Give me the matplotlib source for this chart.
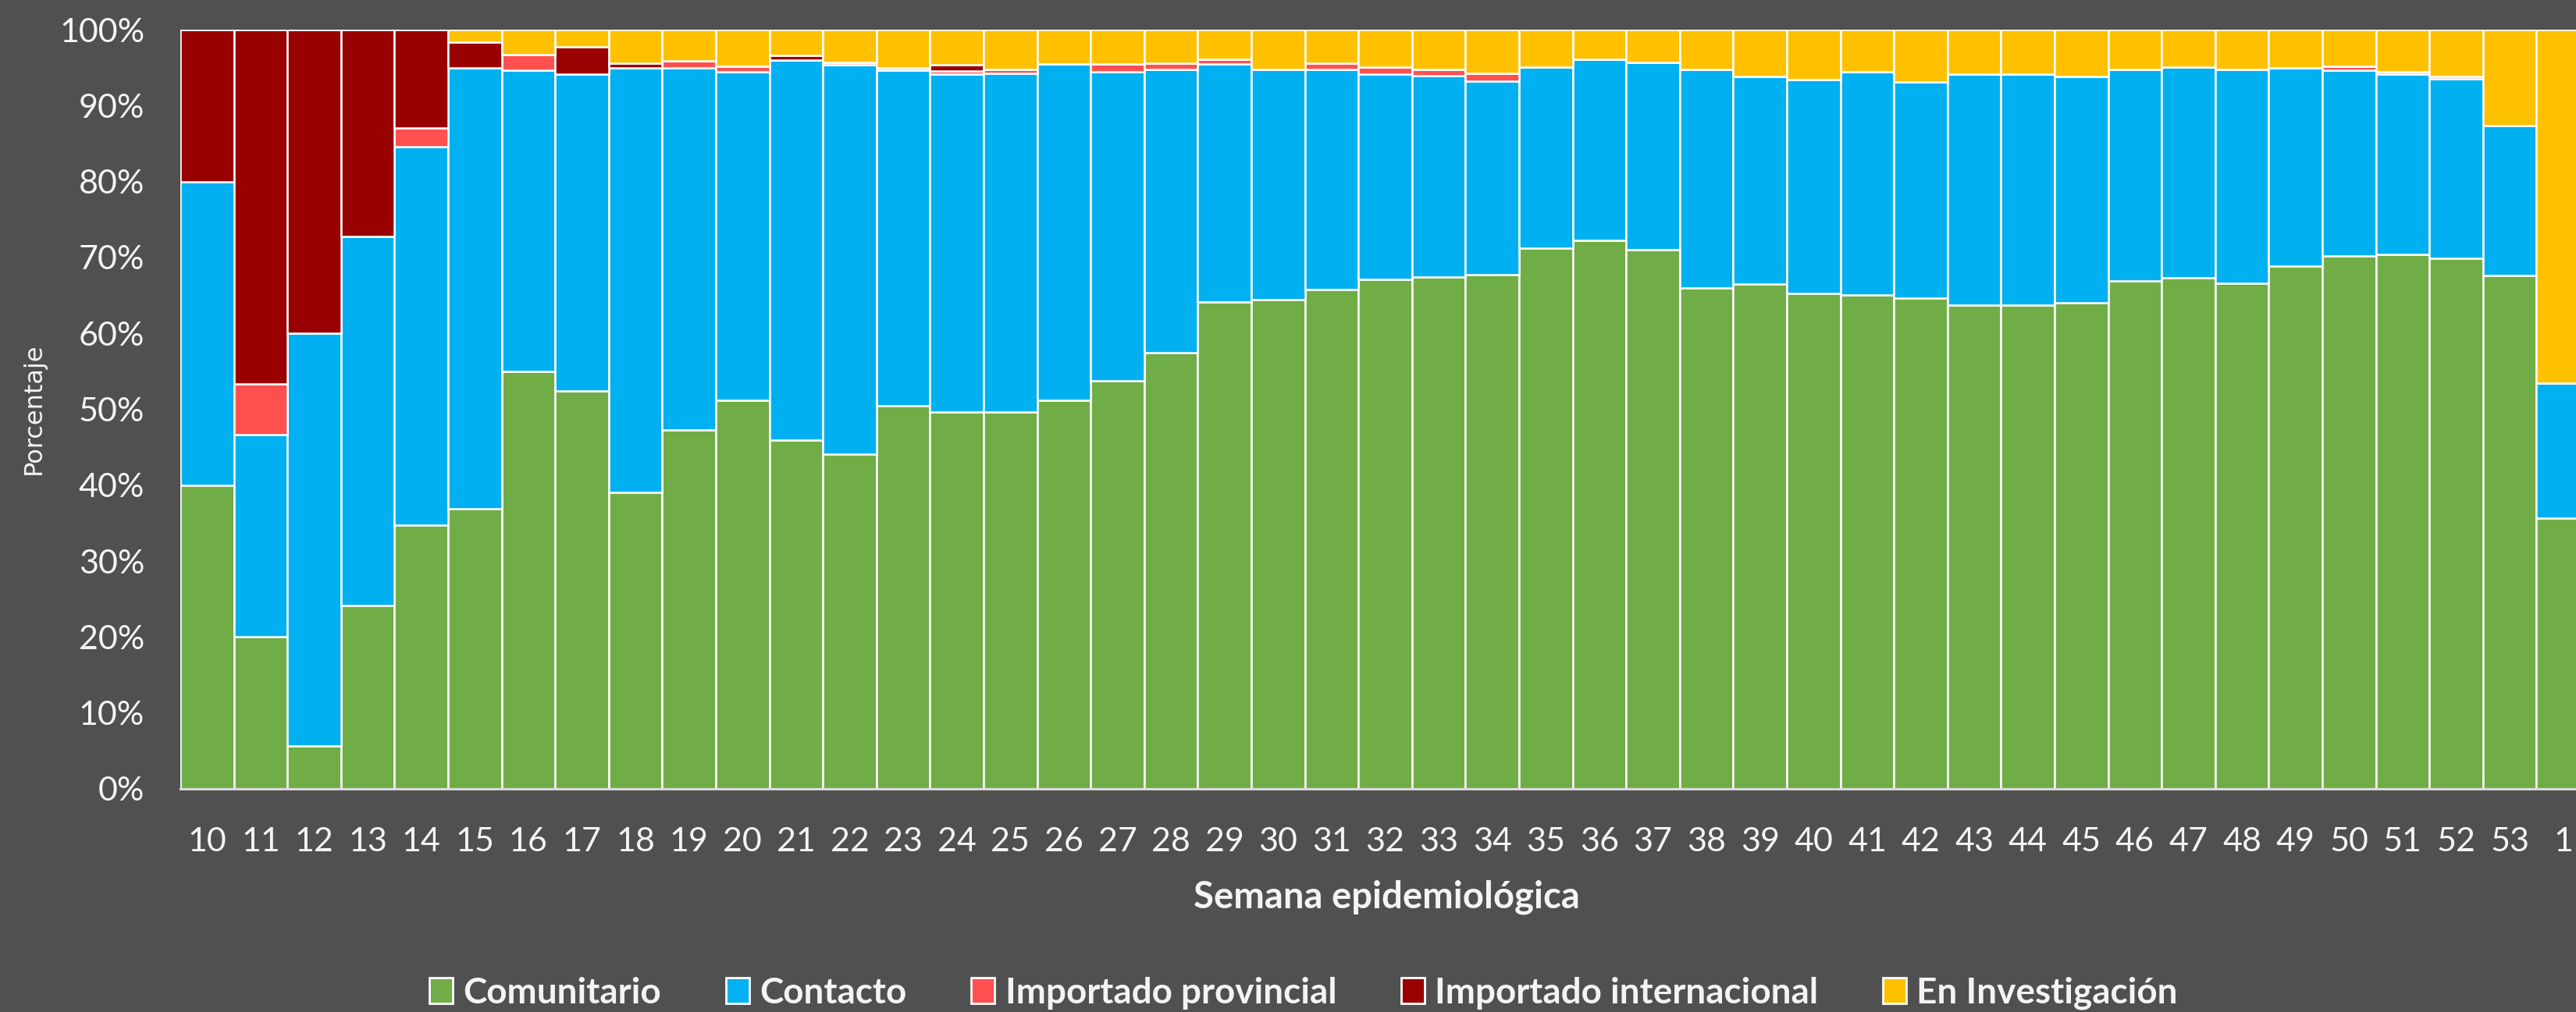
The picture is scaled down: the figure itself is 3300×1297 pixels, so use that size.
import matplotlib
matplotlib.use("Agg")
import matplotlib.pyplot as plt
from matplotlib.patches import Patch
from matplotlib.ticker import FuncFormatter
import numpy as np

semanas = ["10", "11", "12", "13", "14", "15", "16", "17", "18", "19", "20", "21",
           "22", "23", "24", "25", "26", "27", "28", "29", "30", "31", "32", "33",
           "34", "35", "36", "37", "38", "39", "40", "41", "42", "43", "44", "45",
           "46", "47", "48", "49", "50", "51", "52", "53", "1"]

comunitario = [40.0, 20.0, 5.7, 24.2, 34.7, 36.9, 55.0, 52.4, 39.1, 47.3, 51.2, 45.9,
               44.1, 50.5, 49.6, 49.6, 51.2, 53.8, 57.5, 64.1, 64.4, 65.8, 67.1, 67.4,
               67.7, 71.2, 72.2, 71.0, 66.0, 66.5, 65.3, 65.1, 64.6, 63.7, 63.7, 64.0,
               66.9, 67.3, 66.6, 68.9, 70.2, 70.4, 69.9, 67.6, 35.7]
contacto = [40.0, 26.7, 54.3, 48.6, 49.9, 58.1, 39.7, 41.7, 55.9, 47.7, 43.2, 50.1,
            51.3, 44.2, 44.5, 44.6, 44.3, 40.7, 37.3, 31.4, 30.4, 29.0, 27.0, 26.5,
            25.5, 23.9, 23.9, 24.7, 28.8, 27.3, 28.1, 29.3, 28.5, 30.4, 30.4, 29.8,
            27.9, 27.8, 28.2, 26.1, 24.5, 23.7, 23.6, 19.8, 17.7]
importado_prov = [0.0, 6.6, 0.0, 0.0, 2.4, 0.0, 2.0, 0.0, 0.0, 0.9, 0.8, 0.0,
                  0.3, 0.3, 0.5, 0.6, 0.0, 1.0, 0.8, 0.6, 0.0, 0.8, 1.0, 0.9,
                  1.0, 0.0, 0.0, 0.0, 0.0, 0.0, 0.0, 0.0, 0.0, 0.0, 0.0, 0.0,
                  0.0, 0.0, 0.0, 0.0, 0.5, 0.4, 0.3, 0.0, 0.0]
importado_int = [20.0, 46.7, 40.0, 27.2, 13.0, 3.4, 0.0, 3.6, 0.6, 0.0, 0.0, 0.6,
                 0.0, 0.0, 0.8, 0.0, 0.0, 0.0, 0.0, 0.0, 0.0, 0.0, 0.0, 0.0,
                 0.0, 0.0, 0.0, 0.0, 0.0, 0.0, 0.0, 0.0, 0.0, 0.0, 0.0, 0.0,
                 0.0, 0.0, 0.0, 0.0, 0.0, 0.0, 0.0, 0.0, 0.0]
investigacion = [0.0, 0.0, 0.0, 0.0, 0.0, 1.6, 3.3, 2.3, 4.4, 4.1, 4.8, 3.4,
                 4.3, 5.0, 4.6, 5.2, 4.5, 4.5, 4.4, 3.9, 5.2, 4.4, 4.9, 5.2,
                 5.8, 4.9, 3.9, 4.3, 5.2, 6.2, 6.6, 5.6, 6.9, 5.9, 5.9, 6.2,
                 5.2, 4.9, 5.2, 5.0, 4.8, 5.5, 6.2, 12.6, 46.6]

series = [
    ("Comunitario", comunitario, "#70AD47"),
    ("Contacto", contacto, "#00B0F0"),
    ("Importado provincial", importado_prov, "#FF5050"),
    ("Importado internacional", importado_int, "#990000"),
    ("En Investigación", investigacion, "#FFC000"),
]

BG = "#505050"
TXT = "#F4F4F4"

fig = plt.figure(figsize=(33, 12.97), dpi=100, facecolor=BG)
ax = fig.add_axes([231 / 3300, 1 - 1011 / 1297, (3318 - 231) / 3300, (1011 - 38) / 1297])
ax.set_facecolor("white")

x = np.arange(len(semanas))
bottom = np.zeros(len(semanas))
for name, vals, col in series:
    v = np.array(vals)
    ax.bar(x, v, width=1.0, bottom=bottom, color=col, edgecolor="white",
           linewidth=1.8, label=name)
    bottom += v

ax.set_xlim(-0.5, len(semanas) - 0.5)
ax.set_ylim(0, 100)
ax.set_yticks(np.arange(0, 101, 10))
ax.yaxis.set_major_formatter(FuncFormatter(lambda v, p: f"{int(v)}%"))
ax.set_xticks(x)
ax.set_xticklabels(semanas)

for s in ["top", "right", "left"]:
    ax.spines[s].set_visible(False)
ax.spines["bottom"].set_color("#D9D9D9")
ax.spines["bottom"].set_linewidth(2.2)

ax.tick_params(axis="x", length=0, pad=35, labelsize=31, labelcolor=TXT)
ax.tick_params(axis="y", length=0, pad=33, labelsize=31, labelcolor=TXT)
for lab in ax.get_xticklabels() + ax.get_yticklabels():
    lab.set_fontfamily("Lato")

fig.text(43 / 3300, 1 - 524 / 1297, "Porcentaje", rotation=90, ha="center",
         va="center", color=TXT, fontsize=23, family="DejaVu Sans")

fig.text(1776 / 3300, 1 - 1163 / 1297, "Semana epidemiológica", ha="center",
         va="baseline", color=TXT, fontsize=34, fontweight="bold", family="Lato")

handles = [Patch(facecolor=col, edgecolor="white", linewidth=2.0, label=name)
           for name, vals, col in series]
leg = fig.legend(handles=handles, loc="center", bbox_to_anchor=(1670 / 3300, 24 / 1297),
                 ncol=5, frameon=False, handlelength=0.65, handleheight=0.72,
                 handletextpad=0.3, columnspacing=1.8,
                 prop={"family": "Lato", "weight": "bold", "size": 33})
for t in leg.get_texts():
    t.set_color(TXT)

fig.savefig("out.png", dpi=100, facecolor=BG)
